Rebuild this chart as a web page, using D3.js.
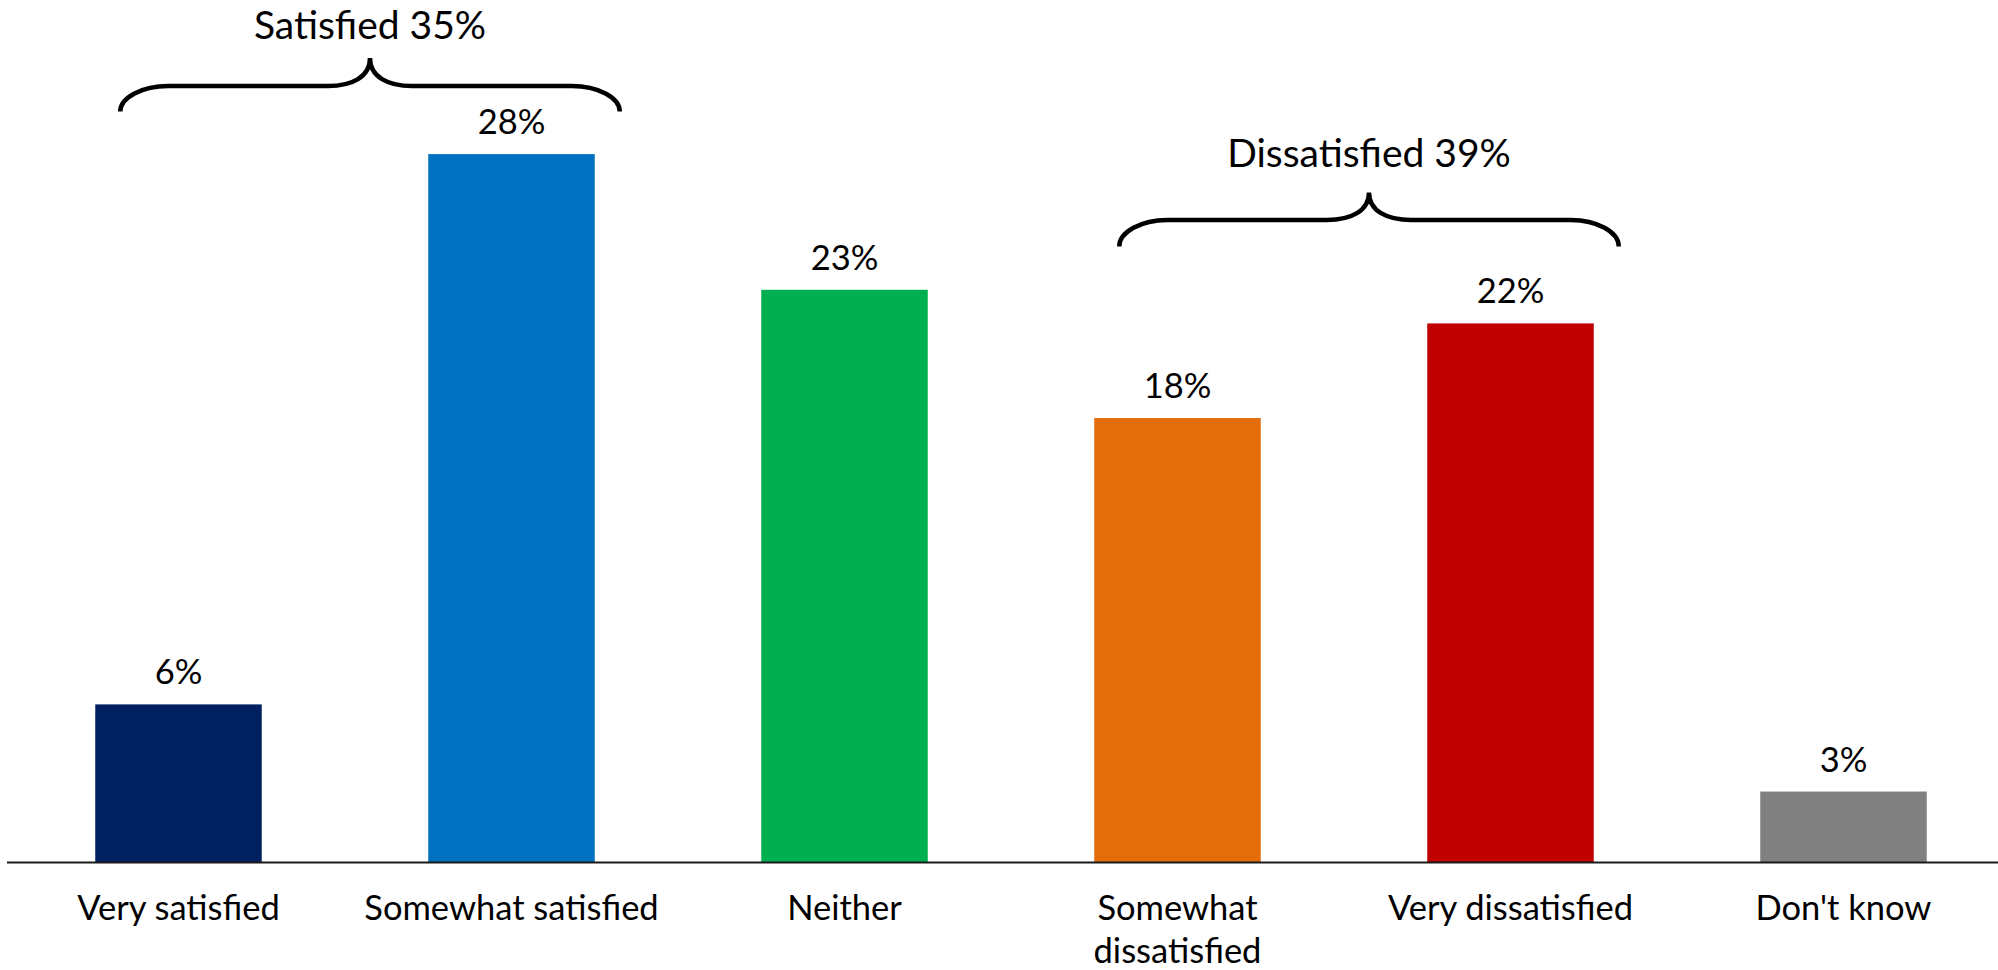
<!DOCTYPE html>
<html>
<head>
<meta charset="utf-8">
<script src="https://cdn.jsdelivr.net/npm/d3@7"></script>
<style>
  html, body { margin: 0; padding: 0; background: #ffffff; }
  svg { display: block; }
  text { font-family: Lato, "Open Sans", sans-serif; fill: #000; }
</style>
</head>
<body>
<svg id="chart" width="1998" height="970"></svg>
<script>
// ---- data ----
const categories = ["Very satisfied", "Somewhat satisfied", "Neither", "Somewhat dissatisfied", "Very dissatisfied", "Don't know"];
const categoryLines = [["Very satisfied"], ["Somewhat satisfied"], ["Neither"], ["Somewhat", "dissatisfied"], ["Very dissatisfied"], ["Don't know"]];
const values = [6.35, 28.45, 23.0, 17.85, 21.65, 2.85];
const valueLabels = ["6%", "28%", "23%", "18%", "22%", "3%"];
const colors = ["#002060", "#0070C0", "#00B050", "#E46C0A", "#C00000", "#808080"];
const groupLabels = ["Satisfied 35%", "Dissatisfied 39%"];
const groupFrom = ["Very satisfied", "Somewhat dissatisfied"];
const groupTo = ["Somewhat satisfied", "Very dissatisfied"];

// ---- layout ----
const W = 1998, H = 970;
const baseY = 862.5;
const svg = d3.select("#chart");

const x = d3.scaleBand().domain(categories).range([12, 2010]).paddingInner(0.5).paddingOuter(0.25);
const y = d3.scaleLinear().domain([0, 30]).range([baseY, baseY - 30 * 24.9]);

// bars
svg.append("g").selectAll("rect").data(categories).join("rect")
  .attr("x", d => x(d))
  .attr("width", x.bandwidth())
  .attr("y", (d, i) => y(values[i]))
  .attr("height", (d, i) => y(0) - y(values[i]))
  .attr("fill", (d, i) => colors[i]);

// value labels
svg.append("g").selectAll("text").data(categories).join("text")
  .attr("x", d => x(d) + x.bandwidth() / 2)
  .attr("y", (d, i) => y(values[i]) - 20)
  .attr("text-anchor", "middle")
  .style("font-size", "34.5px")
  .text((d, i) => valueLabels[i]);

// axis (no ticks) + baseline
const xAxis = d3.axisBottom(x).tickSize(0).tickFormat("");
const axG = svg.append("g").attr("transform", `translate(0,${baseY})`).call(xAxis);
axG.select(".domain").remove();
svg.append("line").attr("x1", 7).attr("x2", W).attr("y1", baseY).attr("y2", baseY)
  .attr("stroke", "#1a1a1a").attr("stroke-width", 2.2);

// category labels
const catG = svg.append("g").selectAll("text").data(categories).join("text")
  .attr("x", d => x(d) + x.bandwidth() / 2)
  .attr("y", 920)
  .attr("text-anchor", "middle")
  .style("font-size", "34.5px");
catG.each(function(d, i) {
  const t = d3.select(this);
  categoryLines[i].forEach((line, k) => {
    t.append("tspan").attr("x", x(d) + x.bandwidth() / 2).attr("dy", k === 0 ? 0 : 43).text(line);
  });
});

// braces
const braceY = [{ end: 111.5, bar: 86, tip: 58, text: 39 }, { end: 246.5, bar: 220, tip: 192.5, text: 167 }];
function bracePath(x0, x1, yEnd, yH, yTip) {
  const xm = (x0 + x1) / 2;
  const dy = yEnd - yH;
  const p = d3.path();
  p.moveTo(x0, yEnd);
  p.bezierCurveTo(x0, yEnd - 0.55 * dy, x0 + 22, yH, x0 + 48, yH);
  p.lineTo(xm - 42, yH);
  p.bezierCurveTo(xm - 18, yH, xm, yH - 9, xm, yTip);
  p.bezierCurveTo(xm, yH - 9, xm + 18, yH, xm + 42, yH);
  p.lineTo(x1 - 48, yH);
  p.bezierCurveTo(x1 - 22, yH, x1, yEnd - 0.55 * dy, x1, yEnd);
  return p.toString();
}
groupLabels.forEach((lab, g) => {
  const x0 = x(groupFrom[g]) + 25;
  const x1 = x(groupTo[g]) + x.bandwidth() + 25;
  const b = braceY[g];
  svg.append("path")
    .attr("d", bracePath(x0, x1, b.end, b.bar, b.tip))
    .attr("fill", "none").attr("stroke", "#000").attr("stroke-width", 4.5)
    .attr("stroke-linecap", "butt").attr("stroke-linejoin", "miter");
  svg.append("text")
    .attr("x", (x0 + x1) / 2)
    .attr("y", b.text)
    .attr("text-anchor", "middle")
    .style("font-size", "39px")
    .text(lab);
});
</script>
</body>
</html>
